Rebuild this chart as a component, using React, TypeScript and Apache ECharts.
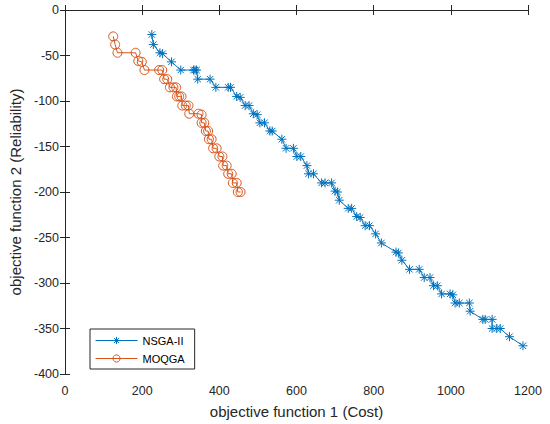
import React, { useEffect, useRef } from "react";
import * as echarts from "echarts";

const nsgaCost = [225, 229, 246, 253, 276, 300, 333, 337, 341, 344, 376, 391, 423, 429, 445, 454, 467, 477, 488, 498, 505, 517, 531, 537, 562, 573, 592, 601, 611, 627, 631, 644, 665, 674, 691, 700, 706, 711, 734, 743, 756, 765, 778, 789, 805, 820, 858, 864, 873, 893, 918, 931, 946, 955, 965, 976, 998, 1005, 1011, 1022, 1048, 1050, 1083, 1089, 1107, 1107, 1119, 1128, 1152, 1187];
const nsgaRel = [-27, -38, -47, -48, -57, -66, -66, -66, -66, -76, -76, -85, -85, -85, -95, -96, -105, -105, -114, -115, -124, -124, -133, -133, -142, -152, -152, -161, -161, -171, -180, -180, -190, -190, -190, -199, -200, -209, -218, -218, -227, -228, -237, -237, -246, -256, -266, -267, -275, -285, -285, -294, -294, -303, -303, -312, -312, -313, -322, -322, -322, -331, -340, -340, -340, -350, -350, -350, -359, -369];

const moqgaCost = [125, 130, 136, 183, 190, 199, 206, 244, 252, 257, 265, 272, 281, 288, 290, 296, 302, 304, 313, 320, 322, 346, 354, 354, 361, 365, 371, 373, 380, 384, 393, 400, 408, 410, 419, 423, 432, 435, 445, 448, 455];
const moqgaRel = [-29, -38, -47, -47, -56, -57, -66, -66, -66, -76, -76, -85, -85, -85, -95, -95, -95, -105, -105, -105, -114, -114, -115, -124, -124, -133, -133, -142, -142, -152, -152, -161, -161, -171, -171, -180, -180, -190, -190, -200, -200];

const xTicks = { min: 0, max: 1200, interval: 200 };
const yTicks = { min: -400, max: 0, interval: 50 };

const FONT = "'Liberation Sans', Arial, Helvetica, sans-serif";
const AX = "#262626";
const BLUE = "#0072BD";
const ORANGE = "#D95319";

const asterisk =
  "path://M0,-10L0,10M-10,0L10,0M-7.07,-7.07L7.07,7.07M-7.07,7.07L7.07,-7.07";

export default function App() {
  const ref = useRef<HTMLDivElement>(null);
  useEffect(() => {
    if (!ref.current) return;
    const chart = echarts.init(ref.current, null, { renderer: "svg" });
    const axisCommon = {
      axisLine: { show: true, lineStyle: { color: AX, width: 1 } },
      axisTick: { show: true, inside: true, length: 5, lineStyle: { color: AX } },
      splitLine: { show: false },
    };
    chart.setOption({
      animation: false,
      backgroundColor: "#fff",
      grid: { left: 65, right: 22, top: 10, bottom: 49 },
      legend: {
        orient: "vertical",
        left: 90,
        top: 329,
        itemWidth: 42,
        itemHeight: 9,
        itemGap: 7,
        padding: [6, 10, 5, 5],
        borderColor: AX,
        borderWidth: 1,
        backgroundColor: "#fff",
        textStyle: { fontFamily: FONT, fontSize: 11, color: "#000" },
        lineStyle: { width: 1 },
        itemStyle: { borderWidth: 1 },
        data: [
          {
            name: "NSGA-II",
            lineStyle: { width: 1, color: BLUE },
            itemStyle: { color: "rgba(0,0,0,0)", borderColor: BLUE, borderWidth: 1 },
          },
          {
            name: "MOQGA",
            lineStyle: { width: 1, color: ORANGE },
            itemStyle: { color: "rgba(0,0,0,0)", borderColor: ORANGE, borderWidth: 1 },
          },
        ],
      },
      xAxis: [
        {
          type: "value",
          ...xTicks,
          position: "bottom",
          name: "objective function 1 (Cost)",
          nameLocation: "middle",
          nameGap: 30,
          nameTextStyle: { fontFamily: FONT, fontSize: 15, color: AX },
          axisLabel: {
            fontFamily: FONT,
            fontSize: 12.5,
            color: AX,
            margin: 10,
            formatter: (v: number) => String(v),
          },
          ...axisCommon,
        },
        {
          type: "value",
          ...xTicks,
          position: "top",
          axisLabel: { show: false },
          ...axisCommon,
        },
      ],
      yAxis: [
        {
          type: "value",
          ...yTicks,
          position: "left",
          name: "objective function 2 (Reliability)",
          nameLocation: "middle",
          nameGap: 40,
          nameTextStyle: { fontFamily: FONT, fontSize: 15, color: AX },
          axisLabel: {
            fontFamily: FONT,
            fontSize: 12.5,
            color: AX,
            margin: 6,
            formatter: (v: number) => String(v),
          },
          ...axisCommon,
        },
        {
          type: "value",
          ...yTicks,
          position: "right",
          axisLabel: { show: false },
          ...axisCommon,
        },
      ],
      series: [
        {
          name: "NSGA-II",
          type: "line",
          data: nsgaCost.map((c, i) => [c, nsgaRel[i]]),
          symbol: asterisk,
          symbolSize: 9,
          showAllSymbol: true,
          lineStyle: { color: BLUE, width: 1 },
          itemStyle: { color: "rgba(0,0,0,0)", borderColor: BLUE, borderWidth: 1 },
          emphasis: { disabled: true },
        },
        {
          name: "MOQGA",
          type: "line",
          data: moqgaCost.map((c, i) => [c, moqgaRel[i]]),
          symbol: "circle",
          symbolSize: 9,
          showAllSymbol: true,
          lineStyle: { color: ORANGE, width: 1 },
          itemStyle: { color: "rgba(0,0,0,0)", borderColor: ORANGE, borderWidth: 1 },
          emphasis: { disabled: true },
        },
      ],
    });
    return () => chart.dispose();
  }, []);
  return (
    <div
      ref={ref}
      style={{ position: "absolute", left: 0, top: 0, width: 550, height: 424 }}
    />
  );
}
